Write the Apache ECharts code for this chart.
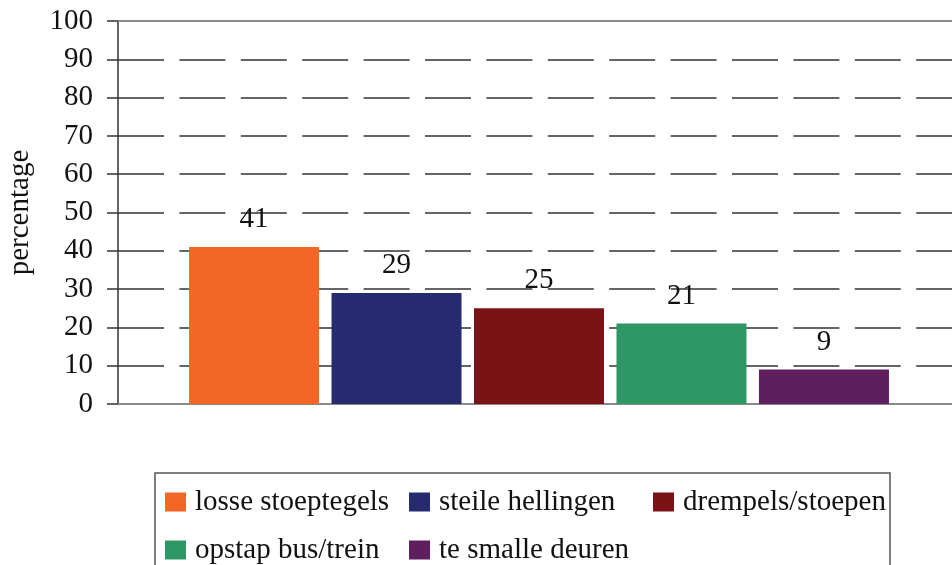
<!DOCTYPE html>
<html>
<head>
<meta charset="utf-8">
<script src="https://cdn.jsdelivr.net/npm/echarts@6/dist/echarts.min.js"></script>
<style>
  html, body { margin: 0; padding: 0; background: #fff; }
  #chart { width: 952px; height: 565px; }
</style>
</head>
<body>
<div id="chart"></div>
<script>
// data
const categories = ['']
const seriesNames = ['losse stoeptegels', 'steile hellingen', 'drempels/stoepen', 'opstap bus/trein', 'te smalle deuren']
const seriesValues = [41, 29, 25, 21, 9]
const seriesColors = ['#F26724', '#262A6E', '#7A1315', '#2F9666', '#5F1F5E']
const yTicks = [0, 100, 10]

const font = 'Liberation Serif, Times New Roman, serif'
const myChart = echarts.init(document.getElementById('chart'))

let option = {
  backgroundColor: '#fff',
  animation: false,
  textStyle: { fontFamily: font },
  grid: {
    left: 118,
    right: -8,
    top: 21,
    bottom: 161,
    containLabel: false,
    outerBoundsMode: 'none'
  },
  legend: {
    data: seriesNames,
    left: 155,
    top: 473,
    width: 740,
    orient: 'horizontal',
    itemWidth: 21,
    itemHeight: 19,
    itemGap: 10,
    icon: 'rect',
    padding: [10, 3, 40, 10],
    borderColor: '#555',
    borderWidth: 1.5,
    textStyle: {
      fontFamily: font,
      fontSize: 29,
      color: '#111',
      width: 204,
      lineHeight: 38,
      padding: [0, 0, 0, 4]
    }
  },
  xAxis: [{
    type: 'category',
    data: categories,
    axisLine: { lineStyle: { color: '#8a8a8a', width: 2 } },
    axisTick: { show: false },
    axisLabel: { show: false }
  }, {
    type: 'category',
    position: 'top',
    data: categories,
    axisLine: { lineStyle: { color: '#8a8a8a', width: 2 } },
    axisTick: { show: false },
    axisLabel: { show: false }
  }],
  yAxis: {
    type: 'value',
    min: yTicks[0],
    max: yTicks[1],
    interval: yTicks[2],
    name: 'percentage',
    nameLocation: 'middle',
    nameGap: 83,
    nameTextStyle: { fontFamily: font, fontSize: 29, color: '#111' },
    axisLine: { show: true, lineStyle: { color: '#333', width: 1.5 } },
    axisTick: { show: true, inside: false, length: 11, lineStyle: { color: '#333', width: 1.5 } },
    axisLabel: { fontFamily: font, fontSize: 29, color: '#111', margin: 25 },
    splitLine: {
      show: true,
      lineStyle: {
        color: ['transparent', '#333', '#333', '#333', '#333', '#333', '#333', '#333', '#333', '#333', 'transparent'],
        width: 1.5,
        type: [46, 15.4]
      }
    }
  },
  series: seriesNames.map((name, i) => {
    return {
      name: name,
      type: 'bar',
      data: [seriesValues[i]],
      barWidth: 130,
      barGap: '9.6%',
      itemStyle: { color: seriesColors[i] },
      label: {
        show: true,
        position: 'top',
        distance: 13,
        fontFamily: font,
        fontSize: 29,
        color: '#111'
      }
    }
  })
}

myChart.setOption(option)
</script>
</body>
</html>
